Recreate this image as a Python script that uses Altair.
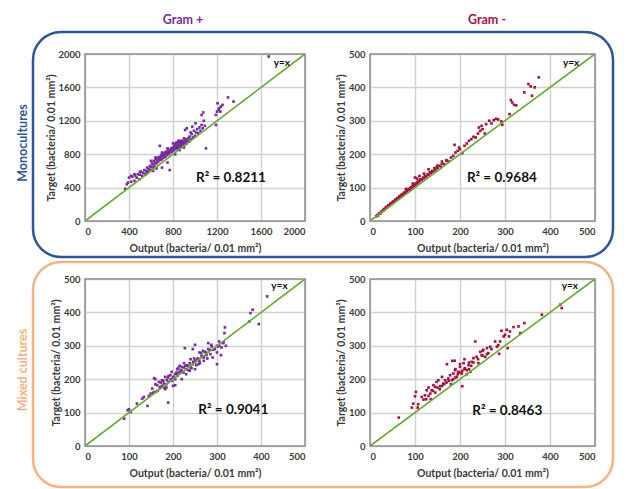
import altair as alt
import pandas as pd

# ---------------- data: (Output, Target) ----------------
gram_pos_mono = [
    (365, 385), (380, 440), (390, 460), (400, 520), (420, 470), (420, 540), (430, 530), (450, 480),
    (450, 560), (455, 545), (470, 520), (480, 560), (495, 500), (500, 555), (500, 590), (510, 590),
    (520, 540), (530, 575), (540, 610), (550, 560), (560, 600), (560, 570), (565, 640), (575, 590),
    (580, 625), (590, 660), (595, 610), (600, 650), (600, 720), (610, 690), (615, 640), (620, 680),
    (620, 600), (625, 720), (630, 660), (640, 700), (640, 760), (645, 740), (650, 690), (650, 630),
    (655, 725), (660, 760), (665, 710), (670, 740), (680, 900), (680, 770), (685, 730), (690, 760),
    (695, 790), (700, 740), (700, 820), (700, 640), (705, 780), (710, 805), (715, 760), (720, 790),
    (725, 820), (730, 770), (735, 800), (740, 830), (745, 790), (750, 815), (750, 870), (750, 700),
    (755, 845), (760, 800), (765, 830), (770, 610), (770, 855), (775, 820), (780, 840), (785, 870),
    (790, 830), (795, 860), (800, 880), (800, 930), (805, 845), (810, 870), (810, 900), (815, 895),
    (820, 860), (820, 920), (820, 800), (825, 885), (830, 905), (830, 880), (830, 940), (835, 870),
    (840, 895), (840, 940), (840, 870), (845, 920), (850, 880), (850, 930), (850, 960), (850, 950),
    (855, 905), (860, 930), (860, 900), (860, 960), (860, 850), (865, 890), (870, 915), (870, 950),
    (875, 945), (880, 900), (880, 960), (880, 920), (885, 925), (890, 950), (890, 930), (895, 910),
    (900, 935), (900, 990), (900, 880), (905, 965), (910, 920), (910, 1090), (915, 945), (920, 980),
    (925, 930), (925, 1110), (930, 960), (940, 990), (945, 950), (950, 1010), (960, 975), (960, 1060),
    (970, 1040), (975, 1130), (980, 1000), (990, 1080), (1000, 1020), (1005, 1170), (1010, 1060),
    (1020, 1100), (1030, 1050), (1040, 1120), (1050, 1080), (1060, 1150), (1060, 1270), (1070, 1110),
    (1075, 1300), (1080, 1200), (1090, 1140), (1100, 870), (1190, 1150), (1190, 1270), (1200, 1310),
    (1205, 1410), (1215, 1330), (1220, 1350), (1230, 1310), (1235, 1370), (1250, 1390), (1300, 1480),
    (1350, 1430), (1670, 1970),
]

gram_neg_mono = [
    (14, 14), (16, 18), (18, 17), (20, 22), (22, 24), (24, 23), (26, 29), (28, 30), (30, 32), (31, 36),
    (33, 35), (35, 39), (36, 42), (38, 40), (40, 44), (41, 47), (43, 46), (45, 50), (46, 53), (48, 51),
    (50, 55), (51, 58), (53, 57), (55, 60), (56, 64), (58, 62), (60, 66), (61, 69), (63, 67), (65, 71),
    (66, 75), (68, 73), (70, 77), (71, 80), (73, 78), (75, 82), (76, 85), (78, 83), (80, 88), (80, 96),
    (81, 91), (83, 89), (85, 93), (86, 96), (88, 94), (90, 98), (91, 101), (93, 99), (95, 104),
    (95, 112), (96, 107), (98, 105), (100, 108), (100, 130), (101, 112), (103, 110), (105, 114),
    (105, 127), (106, 118), (108, 116), (110, 120), (110, 135), (112, 125), (115, 123), (118, 130),
    (120, 128), (120, 142), (122, 135), (125, 133), (128, 140), (130, 138), (130, 155), (133, 146),
    (135, 143), (138, 150), (140, 148), (143, 158), (145, 152), (148, 160), (150, 158), (150, 166),
    (155, 165), (158, 162), (160, 172), (160, 178), (165, 170), (170, 182), (170, 180), (175, 178),
    (180, 190), (185, 195), (188, 228), (190, 205), (195, 210), (198, 220), (200, 215), (205, 203),
    (210, 225), (215, 232), (220, 240), (225, 245), (230, 252), (235, 250), (240, 262), (242, 280),
    (245, 270), (248, 285), (250, 275), (255, 262), (258, 290), (265, 300), (270, 292), (275, 302),
    (280, 306), (285, 304), (292, 298), (294, 288), (310, 320), (313, 362), (316, 355), (320, 348),
    (325, 346), (343, 385), (352, 410), (357, 403), (360, 375), (366, 400), (375, 430),
]

gram_pos_mixed = [
    (89, 82), (97, 107), (100, 110), (104, 102), (118, 127), (130, 142), (134, 147), (142, 120),
    (145, 150), (149, 157), (153, 172), (155, 160), (157, 203), (160, 162), (160, 185), (160, 200),
    (164, 182), (165, 165), (168, 192), (170, 175), (171, 177), (172, 190), (175, 197), (175, 180),
    (178, 195), (179, 187), (180, 175), (182, 207), (182, 170), (185, 185), (185, 175), (186, 197),
    (188, 205), (189, 130), (190, 192), (190, 210), (194, 212), (195, 200), (197, 222), (198, 195),
    (200, 205), (200, 180), (201, 207), (205, 182), (205, 215), (205, 200), (208, 220), (209, 217),
    (210, 210), (210, 230), (212, 233), (215, 220), (215, 240), (216, 222), (218, 228), (220, 237),
    (220, 225), (220, 200), (224, 220), (225, 235), (225, 248), (227, 293), (228, 240), (230, 230),
    (230, 215), (231, 242), (235, 227), (235, 240), (238, 248), (238, 225), (240, 235), (240, 260),
    (242, 233), (245, 245), (245, 290), (246, 252), (248, 262), (250, 303), (250, 250), (250, 230),
    (250, 255), (253, 242), (255, 260), (257, 262), (258, 245), (260, 255), (260, 280), (261, 248),
    (264, 278), (265, 270), (268, 267), (268, 285), (270, 265), (270, 255), (272, 282), (275, 280),
    (276, 272), (278, 262), (280, 308), (280, 290), (283, 288), (285, 275), (287, 303), (288, 298),
    (290, 265), (291, 288), (295, 290), (300, 245), (300, 300), (300, 280), (302, 298), (305, 313),
    (305, 300), (309, 272), (310, 295), (313, 308), (315, 310), (317, 338), (318, 355), (320, 300),
    (374, 373), (376, 398), (381, 408), (395, 365), (414, 448),
]

gram_neg_mixed = [
    (64, 85), (93, 115), (96, 127), (100, 149), (102, 162), (106, 115), (107, 125), (115, 147),
    (119, 139), (122, 152), (125, 140), (126, 167), (130, 175), (130, 150), (134, 157), (135, 140),
    (137, 167), (140, 165), (141, 182), (145, 177), (145, 160), (148, 192), (150, 175), (152, 197),
    (155, 170), (156, 179), (160, 207), (160, 180), (163, 187), (165, 185), (167, 197), (170, 190),
    (171, 245), (174, 202), (175, 195), (178, 212), (180, 185), (182, 197), (183, 255), (185, 217),
    (185, 200), (188, 255), (189, 227), (190, 205), (190, 230), (193, 207), (195, 215), (196, 222),
    (200, 237), (200, 220), (200, 245), (204, 217), (205, 179), (205, 225), (208, 248), (210, 230),
    (210, 260), (211, 233), (215, 227), (215, 215), (219, 242), (220, 230), (220, 250), (223, 222),
    (225, 240), (226, 252), (230, 263), (230, 250), (234, 313), (237, 267), (240, 260), (241, 248),
    (245, 282), (248, 272), (250, 270), (250, 285), (252, 288), (256, 267), (260, 293), (260, 275),
    (263, 278), (267, 297), (270, 290), (278, 313), (282, 297), (285, 302), (287, 276), (289, 313),
    (292, 345), (297, 328), (300, 333), (304, 348), (306, 293), (309, 328), (311, 343), (319, 356),
    (330, 358), (334, 338), (343, 368), (382, 393), (423, 423), (426, 413),
]

r2_labels = ["R² = 0.8211", "R² = 0.9684", "R² = 0.9041", "R² = 0.8463"]
r2_pos = [(1327, 517), (293, 129), (337, 107), (305, 105)]
yx_pos = [(1790, 1890), (447, 474), (442, 478), (444, 478)]
axis_max = [2000, 500, 500, 500]
ticks_2000 = [0, 400, 800, 1200, 1600, 2000]
ticks_500 = [0, 100, 200, 300, 400, 500]
column_titles = ["Gram +", "Gram -"]
row_titles = ["Monocultures", "Mixed cultures"]

# ---------------- styling ----------------
FONT = "Lato"
PURPLE = "#7A2C9B"
CRIMSON = "#A3133E"
GREEN = "#6AAB36"
BLUE = "#2F5597"
ORANGE = "#F4B183"
GRID = "#D2D2D2"
BOX = "#8E8E8E"

W_LEFT, W_RIGHT, H = 220, 225, 167
COL_GAP, ROW_GAP = 65, 58
X_TITLE = "Output (bacteria/ 0.01 mm²)"
Y_TITLE = "Target (bacteria/ 0.01 mm²)"

one = pd.DataFrame({"k": [0]})


def decor_rect(x1, x2, y1, y2, color, radius=28, width=2.5):
    return alt.Chart(one).mark_rect(
        cornerRadius=radius, fillOpacity=0, stroke=color, strokeWidth=width
    ).encode(x=alt.value(x1), x2=alt.value(x2), y=alt.value(y1), y2=alt.value(y2))


def decor_text(txt, x, y, color, size, angle=0):
    return alt.Chart(one).mark_text(
        text=txt, font=FONT, fontSize=size, fontWeight="bold", color=color,
        align="center", baseline="middle", angle=angle
    ).encode(x=alt.value(x), y=alt.value(y))


def panel(points, color, idx, width, extras):
    vmax = axis_max[idx]
    ticks = ticks_2000 if vmax == 2000 else ticks_500
    sc = alt.Scale(domain=[0, vmax], nice=False, zero=True)
    common = dict(values=ticks, format="d", grid=True, gridColor=GRID, gridWidth=1.5,
                  gridOpacity=1, ticks=False, domain=False)
    X = alt.X("out:Q", scale=sc, axis=alt.Axis(title=X_TITLE, titlePadding=8, **common))
    Y = alt.Y("tgt:Q", scale=sc, axis=alt.Axis(title=Y_TITLE, titlePadding=1.5, **common))
    df = pd.DataFrame(points, columns=["out", "tgt"])
    pts = alt.Chart(df).mark_square(size=7, color=color, opacity=1).encode(x=X, y=Y)
    diag = alt.Chart(pd.DataFrame({"out": [0, vmax], "tgt": [0, vmax]})).mark_line(
        color=GREEN, strokeWidth=1.6
    ).encode(x=X, y=Y)
    yx = alt.Chart(pd.DataFrame({"out": [yx_pos[idx][0]], "tgt": [yx_pos[idx][1]]})).mark_text(
        text="y=x", font=FONT, fontSize=10, fontWeight="bold", color="#111111"
    ).encode(x=X, y=Y)
    r2 = alt.Chart(pd.DataFrame({"out": [r2_pos[idx][0]], "tgt": [r2_pos[idx][1]]})).mark_text(
        text=r2_labels[idx], font=FONT, fontSize=13.5, fontWeight="bold", color="#111111"
    ).encode(x=X, y=Y)
    # plot-area frame
    frame = decor_rect(0, width, 0, H, BOX, radius=0, width=1.5)
    return alt.layer(pts, diag, yx, r2, frame, *extras).properties(width=width, height=H)


# decorations, placed in each panel's own pixel frame
anchor = alt.Chart(one).mark_rect(opacity=0).encode(
    x=alt.value(-77), x2=alt.value(-76), y=alt.value(-46), y2=alt.value(-45))
p1_extras = [
    anchor,
    decor_rect(-52, 528, -22, 203, BLUE),
    decor_text(row_titles[0], -62.5, 89, BLUE, 12.5, angle=270),
    decor_text(column_titles[0], 98, -34, PURPLE, 12.5),
]
p2_extras = [decor_text(column_titles[1], 117, -34, CRIMSON, 12.5)]
p3_extras = [
    decor_rect(-52, 528, -17, 208, ORANGE),
    decor_text(row_titles[1], -62.5, 91, ORANGE, 12.5, angle=270),
]

p1 = panel(gram_pos_mono, PURPLE, 0, W_LEFT, p1_extras)
p2 = panel(gram_neg_mono, CRIMSON, 1, W_RIGHT, p2_extras)
p3 = panel(gram_pos_mixed, PURPLE, 2, W_LEFT, p3_extras)
p4 = panel(gram_neg_mixed, CRIMSON, 3, W_RIGHT, [])

chart = alt.concat(
    p1, p2, p3, p4, columns=2, spacing={"row": ROW_GAP, "column": COL_GAP}, bounds="flush"
).properties(
    padding=0, background="white"
).configure_view(
    stroke=None
).configure_axis(
    labelFont=FONT, labelFontSize=9.5, labelFontWeight="bold", labelColor="#3A3A3A",
    titleFont=FONT, titleFontSize=10.5, titleFontWeight="bold", titleColor="#3A3A3A",
    labelPadding=5,
)

chart.save("out.html", embed_options={"renderer": "svg", "actions": False})
